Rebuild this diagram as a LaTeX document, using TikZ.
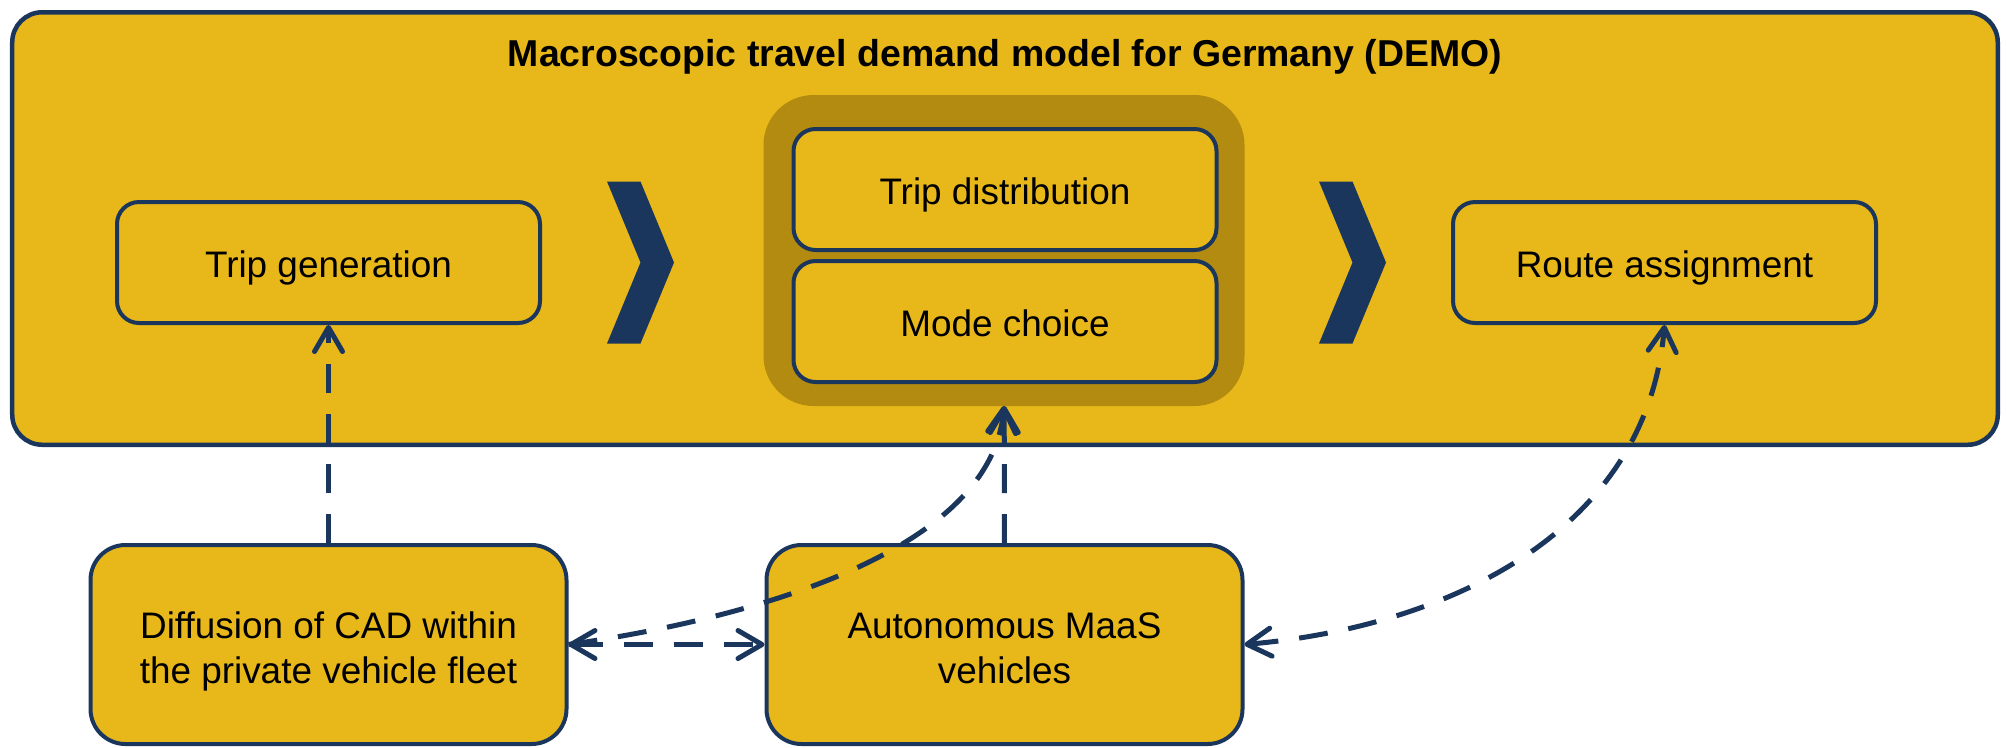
\documentclass[tikz,border=0pt]{standalone}
\usepackage{fontspec}
\setmainfont{Liberation Sans}
\usetikzlibrary{positioning,arrows.meta,fit,backgrounds,calc}
\definecolor{demoFill}{HTML}{E8B81A}
\definecolor{demoDark}{HTML}{B38B10}
\definecolor{demoStroke}{HTML}{1B365D}

\begin{document}
\begin{tikzpicture}[
  x=1mm, y=1mm,
  font=\fontsize{10.5}{12.75}\selectfont,
  >={Straight Barb[length=2.4mm,width=2.8mm,round]},
  frame/.style ={draw=demoStroke, fill=demoFill, rounded corners=3mm, line width=0.45mm, minimum width=198.55mm, minimum height=43.25mm},
  stage/.style ={draw=demoStroke, fill=demoFill, rounded corners=2.2mm, line width=0.4mm, minimum width=42.3mm, minimum height=12.1mm, align=center, inner sep=2pt, text height=8.8pt, text depth=0pt},
  ext/.style   ={draw=demoStroke, fill=demoFill, rounded corners=3.5mm, line width=0.4mm, minimum width=47.6mm, minimum height=19.9mm, align=center, inner sep=2pt, text height=22pt, text depth=0pt},
  grp/.style   ={fill=demoDark, rounded corners=5mm, inner sep=0pt, outer sep=0pt},
  dsh/.style   ={draw=demoStroke, line width=0.5mm, dash pattern=on 2.9mm off 2.1mm},
  chev/.pic    ={\fill[demoStroke] (-3.35,8.1) -- (0,8.1) -- (3.35,0) -- (0,-8.1) -- (-3.35,-8.1) -- (0,0) -- cycle;},
]

% ============ DEMO stages ============
\node[stage] (tgen) at (32.85,-26.25) {Trip generation};
\node[stage] (td)   at (100.5,-18.95) {Trip distribution};
\node[stage, below=0.7mm of td] (mc) {Mode choice};
\node[stage] (route) at (166.45,-26.25) {Route assignment};

% ============ External models ============
\node[ext, below=21.8mm of tgen] (diff) {Diffusion of CAD within\\the private vehicle fleet};
\node[ext, right=19.6mm of diff] (amaas) {Autonomous MaaS\\vehicles};

% ============ Frame and group ============
\begin{scope}[on background layer]
  \node[frame] (outer) at (100.5,-22.85) {};
  \node[grp, fit={([shift={(-2.8,3.2)}]td.north west) ([shift={(2.6,-2.2)}]mc.south east)}] (grp) {};
\end{scope}

\node[font=\fontsize{10.65}{12.75}\selectfont\bfseries, anchor=base] (title) at ([yshift=-5.65mm]outer.north) {Macroscopic travel demand model for Germany (DEMO)};

% ============ Chevrons ============
\path (tgen.east) ++(9.85,0) pic {chev};
\path (route.west) ++(-9.85,0) pic {chev};

% ============ Dashed links ============
\foreach \a/\b in {diff/tgen, amaas/grp} {
  \draw[dsh,->] (\a) -- (\b);
}
\draw[dsh,<->] (diff) -- (amaas);
\draw[dsh,->] (diff.east) to[out=8, in=-95, looseness=0.8] (grp.south);
\draw[dsh,<->] (amaas.east) to[out=5, in=-95] (route.south);

\useasboundingbox (0,0) rectangle (200.7,-74.7);
\end{tikzpicture}
\end{document}
